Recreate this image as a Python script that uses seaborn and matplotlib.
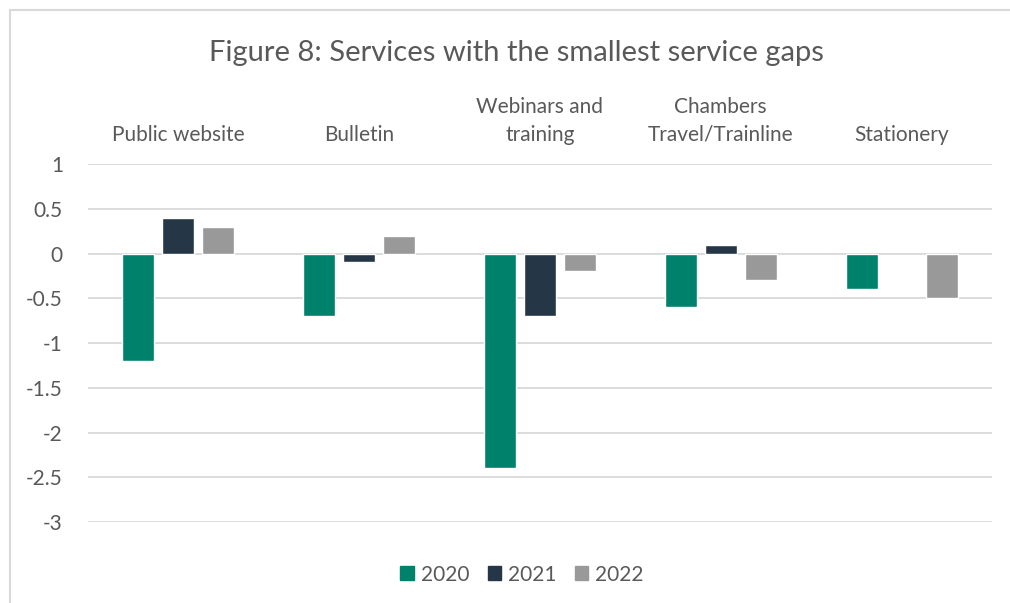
import matplotlib
matplotlib.use("Agg")
import matplotlib.pyplot as plt
import matplotlib.patches as mpatches
import seaborn as sns
import pandas as pd
import numpy as np

categories = ["Public website", "Bulletin", "Webinars and\ntraining",
              "Chambers\nTravel/Trainline", "Stationery"]
years = ["2020", "2021", "2022"]
values_2020 = [-1.2, -0.7, -2.4, -0.6, -0.4]
values_2021 = [0.4, -0.1, -0.7, 0.1, np.nan]
values_2022 = [0.3, 0.2, -0.2, -0.3, -0.5]
colors = ["#00816C", "#253746", "#999999"]
yticks = [1, 0.5, 0, -0.5, -1, -1.5, -2, -2.5, -3]
title = "Figure 8: Services with the smallest service gaps"

rows = []
for yr, vals in zip(years, [values_2020, values_2021, values_2022]):
    for c, v in zip(categories, vals):
        rows.append({"category": c, "year": yr, "value": v})
df = pd.DataFrame(rows)

sns.set_theme(style="white")
plt.rcParams["font.family"] = ["Lato", "DejaVu Sans"]
text_color = "#595959"

fig = plt.figure(figsize=(10.10, 6.03), dpi=100)
ax = fig.add_axes([0.0871, 0.1343, 0.8950, 0.5937])

sns.barplot(data=df, x="category", y="value", hue="year", order=categories,
            hue_order=years, palette=colors, width=0.664, gap=0.2,
            saturation=1, ax=ax, legend=False, errorbar=None)

ax.set_ylim(-3, 1)
ax.set_xlim(-0.5, len(categories) - 0.5)
ax.set_yticks(yticks)
ax.set_yticklabels([("%g" % t) for t in yticks])
ax.yaxis.grid(True, color="#D9D9D9", linewidth=1.3)
ax.set_axisbelow(True)
for s in ax.spines.values():
    s.set_visible(False)
ax.xaxis.tick_top()
ax.tick_params(axis="x", length=0, pad=14, labelsize=15, labelcolor=text_color)
ax.tick_params(axis="y", length=0, pad=18, labelsize=15, labelcolor=text_color)
for lbl in ax.get_xticklabels():
    lbl.set_linespacing(1.45)
ax.set_xlabel("")
ax.set_ylabel("")

fig.text(0.511, 0.912, title, ha="center", va="center", fontsize=21, color=text_color)

handles = [mpatches.Patch(color=c, label=y) for c, y in zip(colors, years)]
fig.legend(handles=handles, loc="center", bbox_to_anchor=(0.517, 0.047), ncol=3,
           frameon=False, fontsize=15, handlelength=0.65, handleheight=0.65,
           handletextpad=0.35, columnspacing=0.85, labelcolor=text_color)

frame = mpatches.Rectangle((10 / 1010, -0.1), 1.2, 1 - 10 / 603 + 0.1,
                           transform=fig.transFigure, fill=False,
                           edgecolor="#D9D9D9", linewidth=1.5)
fig.patches.append(frame)

fig.savefig("out.png", dpi=100)
